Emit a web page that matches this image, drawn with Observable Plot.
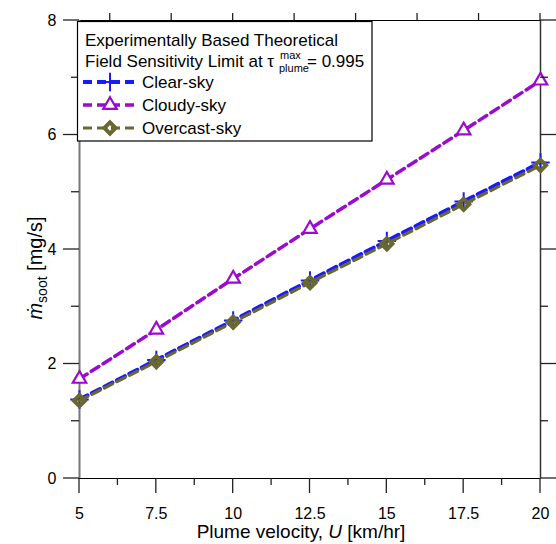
<!DOCTYPE html>
<html>
<head>
<meta charset="utf-8">
<script src="https://cdn.jsdelivr.net/npm/d3@7"></script>
<script src="https://cdn.jsdelivr.net/npm/@observablehq/plot@0.6"></script>
<style>
  html, body { margin: 0; padding: 0; background: white; }
  #chart { width: 556px; height: 544px; }
</style>
</head>
<body>
<div id="chart"></div>
<script>
// ---- data ----
const velocity = [5, 7.5, 10, 12.5, 15, 17.5, 20];
const clearSky = [1.38, 2.07, 2.76, 3.46, 4.15, 4.84, 5.52];
const cloudySky = [1.74, 2.60, 3.49, 4.36, 5.22, 6.08, 6.95];
const overcastSky = [1.36, 2.04, 2.73, 3.42, 4.10, 4.79, 5.47];
const seriesNames = ["Clear-sky", "Cloudy-sky", "Overcast-sky"];
const xMajorTicks = [5, 7.5, 10, 12.5, 15, 17.5, 20];
const xMinorTicks = [6.25, 8.75, 11.25, 13.75, 16.25, 18.75];
const xTopTicks = [6, 8, 10, 12, 14, 16, 18, 20];
const yMajorTicks = [0, 2, 4, 6, 8];
const yMinorTicks = [1, 3, 5, 7];

const colors = {"Clear-sky": "#1a1aff", "Cloudy-sky": "#9a0acf", "Overcast-sky": "#686830"};

const toRows = (vals, name) => velocity.map((u, i) => ({u, m: vals[i], s: name}));
const clearRows = toRows(clearSky, seriesNames[0]);
const cloudyRows = toRows(cloudySky, seriesNames[1]);
const overcastRows = toRows(overcastSky, seriesNames[2]);

const font = "'Liberation Sans', Arial, sans-serif";
const dash = "9,5";

const plot = Plot.plot({
  width: 556,
  height: 544,
  marginLeft: 79,
  marginRight: 16,
  marginTop: 20,
  marginBottom: 66,
  x: {domain: [5, 20]},
  y: {domain: [0, 8]},
  style: {fontFamily: font, fontSize: "16px", color: "black", background: "white"},
  marks: [
    // tick labels
    Plot.axisY({ticks: yMajorTicks, tickSize: 0, tickPadding: 23, fontSize: 16, label: null, tickFormat: d => String(d)}),
    Plot.axisX({ticks: xMajorTicks, tickSize: 0, tickPadding: 29, fontSize: 16, label: null, tickFormat: d => String(d)}),
    // frame
    Plot.ruleY([0], {stroke: "black", strokeWidth: 1.2}),
    Plot.ruleY([8], {stroke: "black", strokeWidth: 1.2}),
    Plot.ruleX([5], {stroke: "#777", strokeWidth: 2}),
    Plot.ruleX([20], {stroke: "#333", strokeWidth: 1.5}),
    // clear sky
    Plot.line(clearRows, {x: "u", y: "m", stroke: colors["Clear-sky"], strokeWidth: 4, strokeDasharray: dash}),
    Plot.dot(clearRows, {x: "u", y: "m", symbol: "plus", r: 6, stroke: colors["Clear-sky"], strokeWidth: 2}),
    // cloudy sky
    Plot.line(cloudyRows, {x: "u", y: "m", stroke: colors["Cloudy-sky"], strokeWidth: 3.5, strokeDasharray: dash}),
    Plot.dot(cloudyRows, {x: "u", y: "m", symbol: "triangle", r: 5, stroke: colors["Cloudy-sky"], fill: "white", strokeWidth: 2.2}),
    // overcast sky
    Plot.line(overcastRows, {x: "u", y: "m", stroke: colors["Overcast-sky"], strokeWidth: 3.2, strokeDasharray: dash}),
    Plot.dot(overcastRows, {x: "u", y: "m", symbol: "diamond2", r: 5, stroke: colors["Overcast-sky"], fill: "none", strokeWidth: 4})
  ]
});

document.getElementById("chart").appendChild(plot);

const svg = d3.select(plot);
const xs = plot.scale("x"), ys = plot.scale("y");
const X = v => xs.apply(v), Y = v => ys.apply(v);
const x0 = X(5), x1 = X(20), y0 = Y(0), y1 = Y(8);

// tick lines, placed with the plot's own scales
const tg = svg.append("g");
const tick = (xa, ya, xb, yb) => tg.append("path")
  .attr("d", `M${xa},${ya}L${xb},${yb}`)
  .attr("fill", "none")
  .attr("stroke", "#222").attr("stroke-width", 1.3);
yMajorTicks.forEach(v => { tick(x0 - 16, Y(v), x0, Y(v)); tick(x1, Y(v), x1 + 16, Y(v)); });
yMinorTicks.forEach(v => { tick(x0 - 8, Y(v), x0, Y(v)); tick(x1, Y(v), x1 + 8, Y(v)); });
xMajorTicks.forEach(v => tick(X(v), y0, X(v), y0 + 15));
xMinorTicks.forEach(v => tick(X(v), y0, X(v), y0 + 7));
xTopTicks.forEach(v => tick(X(v), y1 - 7, X(v), y1));

// axis titles
const xt = svg.append("text")
  .attr("x", 301).attr("y", 538)
  .attr("text-anchor", "middle")
  .attr("font-family", font).attr("font-size", 19).attr("fill", "black");
xt.append("tspan").text("Plume velocity, ");
xt.append("tspan").attr("font-style", "italic").text("U");
xt.append("tspan").text(" [km/hr]");

const yt = svg.append("text")
  .attr("transform", "translate(42,268) rotate(-90)")
  .attr("text-anchor", "middle")
  .attr("font-family", font).attr("font-size", 20).attr("fill", "black");
yt.append("tspan").attr("font-style", "italic").text("\u1E41");
yt.append("tspan").attr("font-size", 14).attr("dy", 5).text("soot");
yt.append("tspan").attr("dy", -5).text(" [mg/s]");

// legend
const lg = svg.append("g").attr("font-family", font).attr("font-size", 17)
  .attr("fill", "black").attr("text-anchor", "start");
lg.append("rect").attr("x", 77.5).attr("y", 21.5).attr("width", 294.5).attr("height", 119.5)
  .attr("fill", "white").attr("stroke", "black").attr("stroke-width", 1.2);
lg.append("text").attr("x", 85).attr("y", 46).text("Experimentally Based Theoretical");
const l2 = lg.append("text").attr("x", 85).attr("y", 67);
l2.append("tspan").text("Field Sensitivity Limit at \u03C4");
l2.append("tspan").attr("x", 280).attr("y", 59).attr("font-size", 11).text("max");
l2.append("tspan").attr("x", 279).attr("y", 72).attr("font-size", 11).text("plume");
l2.append("tspan").attr("x", 307).attr("y", 67).text("= 0.995");

const entryY = [82, 105, 128];
seriesNames.forEach((name, i) => {
  const y = entryY[i];
  const c = colors[name];
  const w = i === 0 ? 4 : (i === 1 ? 3.5 : 3.2);
  lg.append("line").attr("x1", 83).attr("x2", 137).attr("y1", y).attr("y2", y)
    .attr("stroke", c).attr("stroke-width", w).attr("stroke-dasharray", dash);
  const sym = i === 0 ? d3.symbolPlus : (i === 1 ? d3.symbolTriangle : d3.symbolDiamond2);
  const r = i === 0 ? 6 : 5;
  const p = lg.append("path").attr("transform", `translate(110,${y})`)
    .attr("d", d3.symbol(sym, Math.PI * r * r)());
  if (i === 0) p.attr("fill", "none").attr("stroke", c).attr("stroke-width", 2);
  if (i === 1) p.attr("fill", "white").attr("stroke", c).attr("stroke-width", 2.2);
  if (i === 2) p.attr("fill", "none").attr("stroke", c).attr("stroke-width", 4);
  lg.append("text").attr("x", 142).attr("y", y + 6).text(name);
});
</script>
</body>
</html>
